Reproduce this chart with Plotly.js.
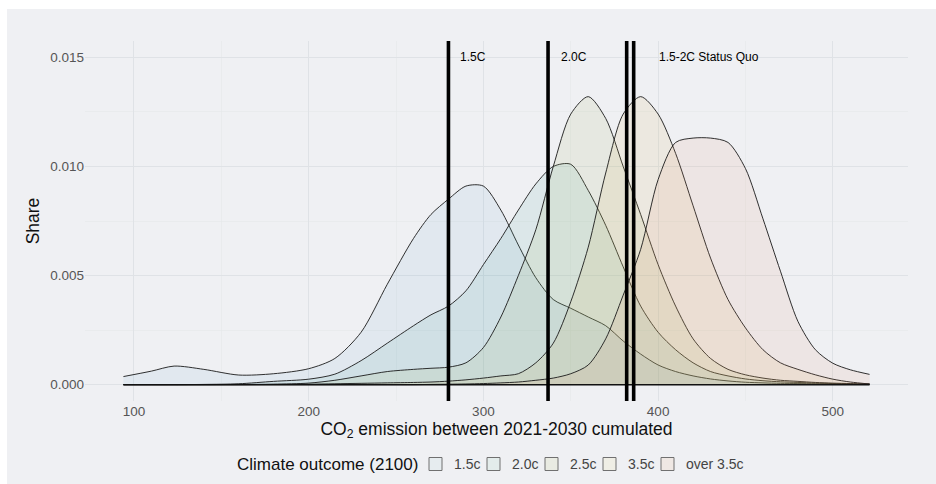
<!DOCTYPE html>
<html>
<head>
<meta charset="utf-8">
<script src="https://cdn.plot.ly/plotly-3.0.1.min.js"></script>
<style>
  html, body { margin: 0; padding: 0; background: #ffffff; width: 936px; height: 484px; overflow: hidden; }
  #chart { position: absolute; left: 7px; top: 9px; width: 929px; height: 475px; }
</style>
</head>
<body>
<div id="chart"></div>
<script>
// ---- data ----
const categories = ['1.5c', '2.0c', '2.5c', '3.5c', 'over 3.5c'];

const xGrid = [94, 110, 123, 140, 160, 180, 200, 215, 230, 245, 260, 270, 280, 290, 300, 310, 320, 330, 340, 350,
               360, 370, 380, 390, 400, 410, 420, 430, 440, 450, 460, 470, 480, 490, 500, 510, 521];

const share15 = [0.00037, 0.00062, 0.00085, 0.00070, 0.00044, 0.00050, 0.00073, 0.0012, 0.0024, 0.0046,
                 0.0067, 0.0078, 0.0085, 0.0091, 0.0091, 0.0080, 0.0064, 0.0049, 0.0039, 0.0035,
                 0.0031, 0.0027, 0.0020, 0.0014, 0.0009, 0.0006, 0.0004, 0.00026, 0.00017, 0.00011,
                 0.00008, 0.00006, 0.00005, 0.00004, 0.00003, 0.00002, 0.00001];

const share20 = [0, 0, 0, 0.00001, 0.00004, 0.00015, 0.00025, 0.00048, 0.0011, 0.0019,
                 0.0027, 0.0032, 0.0036, 0.0043, 0.0055, 0.0067, 0.0080, 0.0092, 0.0100, 0.0101,
                 0.0089, 0.0073, 0.0054, 0.0036, 0.0024, 0.0016, 0.0010, 0.0006, 0.0004, 0.00026,
                 0.00018, 0.00013, 0.0001, 0.00007, 0.00005, 0.00003, 0.00002];

const share25 = [0, 0, 0, 0, 0.00001, 0.00002, 0.00007, 0.0002, 0.0004, 0.0006,
                 0.0007, 0.00075, 0.0008, 0.0010, 0.0017, 0.0031, 0.0050, 0.0071, 0.0100, 0.0124,
                 0.0132, 0.0122, 0.0100, 0.0078, 0.0055, 0.0036, 0.0021, 0.0012, 0.0007, 0.00045,
                 0.0003, 0.0002, 0.00015, 0.0001, 0.00007, 0.00005, 0.00003];

const share35 = [0, 0, 0, 0, 0, 0.00001, 0.00002, 0.00004, 0.00006, 0.00008,
                 0.0001, 0.00012, 0.00016, 0.00022, 0.0003, 0.0004, 0.0005, 0.0010, 0.0019, 0.0038,
                 0.0063, 0.0097, 0.0124, 0.0132, 0.0124, 0.0106, 0.0082, 0.0058, 0.0039, 0.0026,
                 0.0016, 0.0010, 0.0007, 0.00045, 0.00025, 0.00012, 0.00003];

const shareOver35 = [0, 0, 0, 0, 0, 0, 0, 0, 0, 0,
                     0, 0.00001, 0.00002, 0.00003, 0.00005, 0.00008, 0.00012, 0.0002, 0.0003, 0.0005,
                     0.0009, 0.0021, 0.0041, 0.0062, 0.0094, 0.0111, 0.0113, 0.0113, 0.0111, 0.0099,
                     0.0076, 0.0052, 0.0029, 0.0016, 0.00098, 0.00068, 0.00047];

const seriesValues = [share15, share20, share25, share35, shareOver35];

const thresholds = [280, 337, 382, 386];
const labelTexts = ['1.5C', '2.0C', '1.5-2C Status Quo'];
const labelX = [294, 352, 429];
const labelY = [0.015, 0.015, 0.015];

const xTickVals = [100, 200, 300, 400, 500];
const legendTitle = 'Climate outcome (2100)';

// ---- styles ----
const fillColors = ['rgba(70,140,190,0.08)', 'rgba(60,160,150,0.10)', 'rgba(165,180,100,0.12)',
                    'rgba(215,185,90,0.12)', 'rgba(230,135,100,0.10)'];
const legendColors = ['#e6ecef', '#e3eceb', '#e9ebe2', '#efeee5', '#efe8e4'];
const bg = '#eff0f3';

// plot-area geometry (px, page coordinates) used to place the hand-built legend
const PL = 85, PW = 823, PB = 401, PH = 360;
const px2x = p => (p - PL) / PW;
const px2y = p => (PB - p) / PH;

const traces = [];
categories.forEach((c, i) => {
  traces.push({
    type: 'scatter', mode: 'lines', x: xGrid, y: seriesValues[i],
    line: { color: '#1a1a1a', width: 0.9, shape: 'spline', smoothing: 0.8 },
    fill: 'tozeroy', fillcolor: fillColors[i],
    showlegend: false, hoverinfo: 'skip', name: c
  });
});
// baseline of the densities
traces.push({
  type: 'scatter', mode: 'lines',
  x: [xGrid[0], xGrid[xGrid.length - 1]], y: [0, 0],
  line: { color: '#111', width: 1.5 }, showlegend: false, hoverinfo: 'skip'
});

const shapes = thresholds.map(t => ({
  type: 'line', xref: 'x', yref: 'paper', x0: t, x1: t, y0: 0, y1: 1,
  line: { color: '#000', width: 3.6 }, layer: 'above'
}));

const annotations = labelTexts.map((t, i) => ({
  x: labelX[i], y: labelY[i], xref: 'x', yref: 'y', text: t, showarrow: false,
  font: { size: 12, color: '#000' }, xanchor: 'center', yanchor: 'middle'
}));

// legend (built from categories)
const legY = 464, legStep = 58, legBox0 = 429, boxSize = 13, textOff = 23;
annotations.push({
  xref: 'paper', yref: 'paper', x: px2x(420), y: px2y(legY), text: legendTitle,
  showarrow: false, xanchor: 'right', yanchor: 'middle', font: { size: 17, color: '#111' }
});
categories.forEach((c, i) => {
  const bx = legBox0 + legStep * i;
  shapes.push({
    type: 'rect', xref: 'paper', yref: 'paper',
    x0: px2x(bx), x1: px2x(bx + boxSize), y0: px2y(legY - boxSize / 2), y1: px2y(legY + boxSize / 2),
    fillcolor: legendColors[i], line: { color: '#707070', width: 1 }
  });
  annotations.push({
    xref: 'paper', yref: 'paper', x: px2x(bx + textOff), y: px2y(legY), text: c,
    showarrow: false, xanchor: 'left', yanchor: 'middle', font: { size: 14, color: '#444' }
  });
});

const layout = {
  width: 929, height: 475,
  margin: { l: 78, r: 28, t: 32, b: 83 },
  paper_bgcolor: bg, plot_bgcolor: bg,
  font: { family: '"Liberation Sans", Arial, sans-serif', color: '#222' },
  xaxis: {
    range: [72, 543], tickvals: xTickVals, ticktext: xTickVals.map(String),
    showgrid: true, gridcolor: '#dfe2e6', gridwidth: 1,
    minor: { tickvals: [150, 250, 350, 450], showgrid: true, gridcolor: '#e5e7ea', gridwidth: 0.6 },
    zeroline: false, showline: false, ticks: '',
    tickfont: { size: 13.5, color: '#555' },
    title: { text: 'CO<sub>2</sub> emission between 2021-2030 cumulated', font: { size: 17.5, color: '#111' }, standoff: 2 }
  },
  yaxis: {
    range: [-0.00075, 0.01575], dtick: 0.005, tick0: 0, tickformat: '.3f',
    showgrid: true, gridcolor: '#dfe2e6', gridwidth: 1,
    minor: { dtick: 0.0025, showgrid: true, gridcolor: '#e5e7ea', gridwidth: 0.6 },
    zeroline: false, showline: false, ticks: '',
    tickfont: { size: 13.5, color: '#555' },
    title: { text: 'Share', font: { size: 17.5, color: '#111' }, standoff: 6 }
  },
  shapes: shapes,
  annotations: annotations,
  showlegend: false
};

Plotly.newPlot('chart', traces, layout, { displayModeBar: false, staticPlot: true });
</script>
</body>
</html>
